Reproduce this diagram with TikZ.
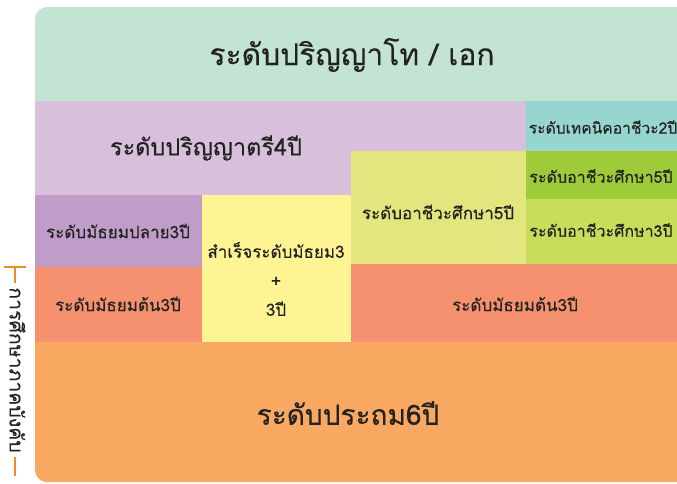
\documentclass[tikz,border=0pt]{standalone}
\usepackage{fontspec}
\newfontfamily\thaifont[Script=Thai, UprightFeatures={FakeBold=0.25}]{Loma}
\definecolor{cgrad}{HTML}{C3E3D3}
\definecolor{cbach}{HTML}{D8BFDC}
\definecolor{ctech}{HTML}{97D6CF}
\definecolor{cvocm}{HTML}{E3E67F}
\definecolor{cvocf}{HTML}{9DCB3A}
\definecolor{cvocl}{HTML}{CADC5B}
\definecolor{cupper}{HTML}{C09DC9}
\definecolor{cyel}{HTML}{FEF493}
\definecolor{csalm}{HTML}{F5916F}
\definecolor{cprim}{HTML}{F9A862}
\definecolor{cline}{HTML}{F08A24}
\definecolor{ctext}{HTML}{222222}
\tikzset{
  lbl/.style={text=ctext, font=\thaifont\fontsize{#1}{#1}\selectfont, inner sep=0pt, align=center},
  lbl/.default=17,
  tick/.style={cline, line width=2.7pt}
}
\begin{document}
\begin{tikzpicture}[x=1pt,y=-1pt]
\useasboundingbox (0,0) rectangle (677,483);
\begin{scope}
\clip[rounded corners=12pt] (35,7) rectangle (690,482);
\fill[cgrad] (35,0) rectangle (690,101);
\fill[cbach] (35,101) -- (526,101) -- (526,151) -- (351,151) -- (351,195) -- (35,195) -- cycle;
\fill[ctech] (526,101) rectangle (690,151);
\fill[cvocm] (351,151) rectangle (526,264);
\fill[cvocf] (526,151) rectangle (690,199);
\fill[cvocl] (526,199) rectangle (690,264);
\fill[cupper] (35,195) rectangle (202,267);
\fill[cyel] (202,195) rectangle (351,342);
\fill[csalm] (35,267) rectangle (202,342);
\fill[csalm] (351,264) rectangle (690,342);
\fill[cprim] (35,342) rectangle (690,490);
\end{scope}
\node[lbl=30] (grad) at (352,55) {ระดับปริญญาโท / เอก};
\node[lbl=23.5] (bach) at (206,148) {ระดับปริญญาตรี4ปี};
\node[lbl=15.6] (tech) at (603,127) {ระดับเทคนิคอาชีวะ2ปี};
\node[lbl] (vocm) at (438,212) {ระดับอาชีวะศึกษา5ปี};
\node[lbl=16] (vocf) at (601,176) {ระดับอาชีวะศึกษา5ปี};
\node[lbl=16] (vocl) at (601,230) {ระดับอาชีวะศึกษา3ปี};
\node[lbl] (upper) at (118,231) {ระดับมัธยมปลาย3ปี};
\node[lbl] (yel) at (276,279) {สำเร็จระดับมัธยม3\\[12pt]+\\[12pt]3ปี};
\node[lbl] (lowl) at (118,304) {ระดับมัธยมต้น3ปี};
\node[lbl] (lowr) at (515,304) {ระดับมัธยมต้น3ปี};
\node[lbl=28] (prim) at (348,413) {ระดับประถม6ปี};
\node[lbl=19.5, rotate=-90] (comp) at (17.5,370) {การศึกษาภาคบังคับ};
\coordinate (t1) at (4,267);
\coordinate (t2) at (26,267);
\coordinate (t3) at (15,267);
\coordinate (t4) at (15,283);
\coordinate (b1) at (15,457);
\coordinate (b2) at (15,476);
\draw[tick] (t1) -- (t2);
\draw[tick] (t3) -- (t4);
\draw[tick] (b1) -- (b2);
\end{tikzpicture}
\end{document}
